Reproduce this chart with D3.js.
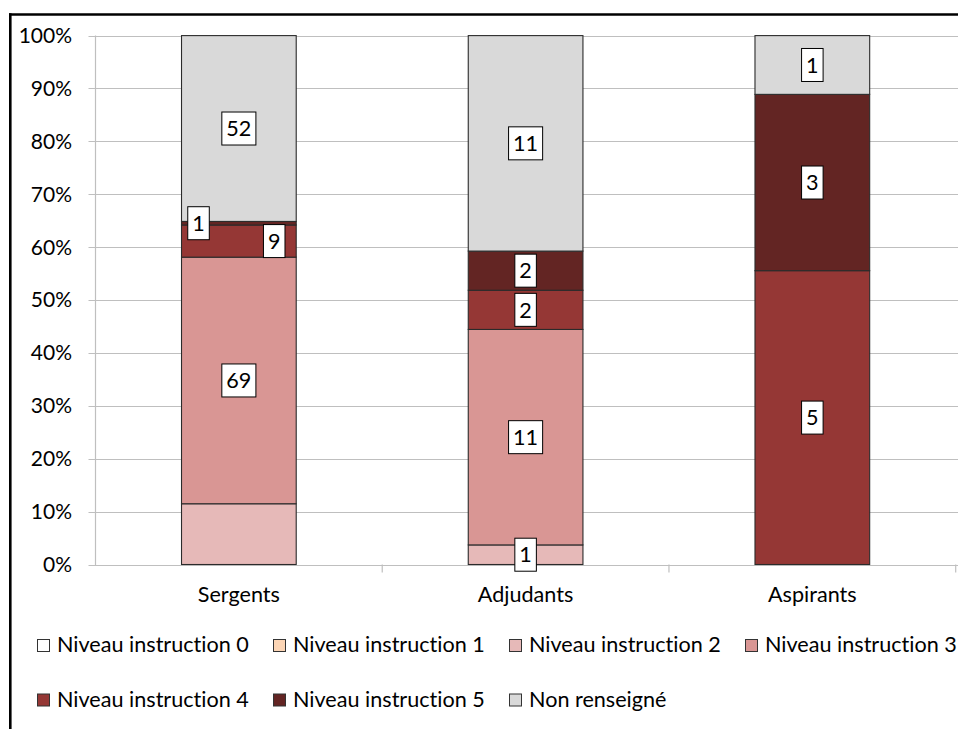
<!DOCTYPE html>
<html>
<head>
<meta charset="utf-8">
<script src="https://cdn.jsdelivr.net/npm/d3@7"></script>
<style>
  html, body { margin: 0; padding: 0; background: #fff; overflow: hidden; }
  svg { display: block; font-family: Lato, "Open Sans", sans-serif; font-variant-ligatures: none; font-feature-settings: "liga" 0, "clig" 0; }
</style>
</head>
<body>
<svg id="chart" width="958" height="729"></svg>
<script>
// ---- data ----
const categories = ["Sergents", "Adjudants", "Aspirants"];
const seriesNames = ["Niveau instruction 0", "Niveau instruction 1", "Niveau instruction 2",
  "Niveau instruction 3", "Niveau instruction 4", "Niveau instruction 5", "Non renseigné"];
const niveau0 = [0, 0, 0];
const niveau1 = [0, 0, 0];
const niveau2 = [17, 1, 0];
const niveau3 = [69, 11, 0];
const niveau4 = [9, 2, 5];
const niveau5 = [1, 2, 3];
const nonRenseigne = [52, 11, 1];
const seriesValues = [niveau0, niveau1, niveau2, niveau3, niveau4, niveau5, nonRenseigne];
const seriesColors = ["#FFFFFF", "#FCD5B5", "#E6B9B8", "#D99694", "#953735", "#632523", "#D9D9D9"];
const yTicks = [0, 0.1, 0.2, 0.3, 0.4, 0.5, 0.6, 0.7, 0.8, 0.9, 1.0];
const hiddenLabels = [["Sergents", "Niveau instruction 2"]];

// ---- table ----
const table = categories.map((c, i) => {
  const row = { category: c };
  seriesNames.forEach((s, j) => row[s] = seriesValues[j][i]);
  return row;
});

const svg = d3.select("#chart");
const W = 958, H = 729;
const FS = 21.6;
const plot = { left: 95.5, right: 955.7, top: 35.6, bottom: 564.5 };

const x = d3.scaleBand().domain(categories).range([plot.left, plot.right]).paddingInner(0.6).paddingOuter(0.3);
const xBand = d3.scaleBand().domain(categories).range([plot.left, plot.right]);
const y = d3.scaleLinear().domain([0, 1]).range([plot.bottom, plot.top]);

const stack = d3.stack().keys(seriesNames).offset(d3.stackOffsetExpand);
const stacked = stack(table);

// frame
svg.append("rect").attr("x", 0).attr("y", 0).attr("width", W).attr("height", H).attr("fill", "#fff");
svg.append("line").attr("x1", 10.3).attr("x2", 10.3).attr("y1", 13.2).attr("y2", H).attr("stroke", "#000").attr("stroke-width", 2.6);
svg.append("line").attr("x1", 9).attr("x2", W).attr("y1", 14.5).attr("y2", 14.5).attr("stroke", "#000").attr("stroke-width", 2.6);

// gridlines
svg.append("g").selectAll("line").data(yTicks).join("line")
  .attr("x1", plot.left - 7).attr("x2", W)
  .attr("y1", d => Math.round(y(d)) + 0.5).attr("y2", d => Math.round(y(d)) + 0.5)
  .attr("stroke", "#BFBFBF").attr("stroke-width", 1.2);

// y axis line
svg.append("line").attr("x1", plot.left).attr("x2", plot.left)
  .attr("y1", y(1)).attr("y2", y(0) + 0.5).attr("stroke", "#BFBFBF").attr("stroke-width", 1.2);

// y tick labels
const fmt = d3.format(".0%");
svg.append("g").selectAll("text").data(yTicks).join("text")
  .attr("x", 72).attr("y", d => y(d)).attr("dy", "0.35em")
  .attr("text-anchor", "end").attr("font-size", FS - 0.6).attr("fill", "#000")
  .text(d => fmt(d));

// x axis ticks at band boundaries
const bounds = categories.map(c => xBand(c)).concat([plot.right]).slice(1);
svg.append("g").selectAll("line").data(bounds).join("line")
  .attr("x1", d => d).attr("x2", d => d)
  .attr("y1", y(0)).attr("y2", y(0) + 8)
  .attr("stroke", "#BFBFBF").attr("stroke-width", 1.2);

// x labels
svg.append("g").selectAll("text").data(categories).join("text")
  .attr("x", d => xBand(d) + xBand.bandwidth() / 2).attr("y", 602)
  .attr("text-anchor", "middle").attr("font-size", FS).attr("fill", "#000")
  .text(d => d);

// bars
const layers = svg.append("g").selectAll("g").data(stacked).join("g")
  .attr("fill", (d, i) => seriesColors[i]);
layers.selectAll("rect").data(d => d.map(p => ({ p, key: d.key }))).join("rect")
  .attr("x", d => x(d.p.data.category))
  .attr("width", x.bandwidth())
  .attr("y", d => y(d.p[1]))
  .attr("height", d => Math.max(0, y(d.p[0]) - y(d.p[1])))
  .attr("stroke", d => (d.p[1] - d.p[0]) > 0 ? "#2b2b2b" : "none")
  .attr("stroke-width", 1.1);

// labels
const labelData = [];
categories.forEach((c, ci) => {
  const items = [];
  stacked.forEach((layer, si) => {
    const p = layer[ci];
    const v = seriesValues[si][ci];
    if (v <= 0) return;
    if (hiddenLabels.some(h => h[0] === c && h[1] === layer.key)) return;
    items.push({ c, v, cx: x(c) + x.bandwidth() / 2, cy: y((p[0] + p[1]) / 2) });
  });
  // resolve overlaps between consecutive labels in a bar
  const boxH = 33;
  for (let k = 1; k < items.length; k++) {
    if (Math.abs(items[k].cy - items[k - 1].cy) < boxH) {
      items[k - 1].cx = x(c) + x.bandwidth() - 22;
      items[k].cx = x(c) + 17;
      items[k].cy = Math.min(items[k].cy, items[k - 1].cy - 15);
    }
  }
  labelData.push(...items);
});

const lg = svg.append("g").selectAll("g").data(labelData).join("g")
  .attr("transform", d => `translate(${d.cx},${d.cy})`);
lg.each(function(d) {
  const g = d3.select(this);
  const t = g.append("text").attr("text-anchor", "middle").attr("dy", "0.36em")
    .attr("font-size", FS).attr("fill", "#000").text(d.v);
  const w = t.node().getComputedTextLength() + 9;
  g.insert("rect", "text").attr("x", -w / 2).attr("y", -16.5).attr("width", w).attr("height", 33)
    .attr("fill", "#fff").attr("stroke", "#000").attr("stroke-width", 1);
});

// legend
const legendItems = seriesNames.map((s, i) => ({ s, color: seriesColors[i], col: i % 4, row: Math.floor(i / 4) }));
const leg = svg.append("g").selectAll("g").data(legendItems).join("g")
  .attr("transform", d => `translate(${37 + d.col * 236},${652 + d.row * 54.5})`);
leg.append("rect").attr("x", 0.5).attr("y", -12.5).attr("width", 12).attr("height", 12)
  .attr("fill", d => d.color).attr("stroke", "#333").attr("stroke-width", 1);
leg.append("text").attr("x", 20).attr("y", 0).attr("font-size", FS).attr("fill", "#000").text(d => d.s);
</script>
</body>
</html>
